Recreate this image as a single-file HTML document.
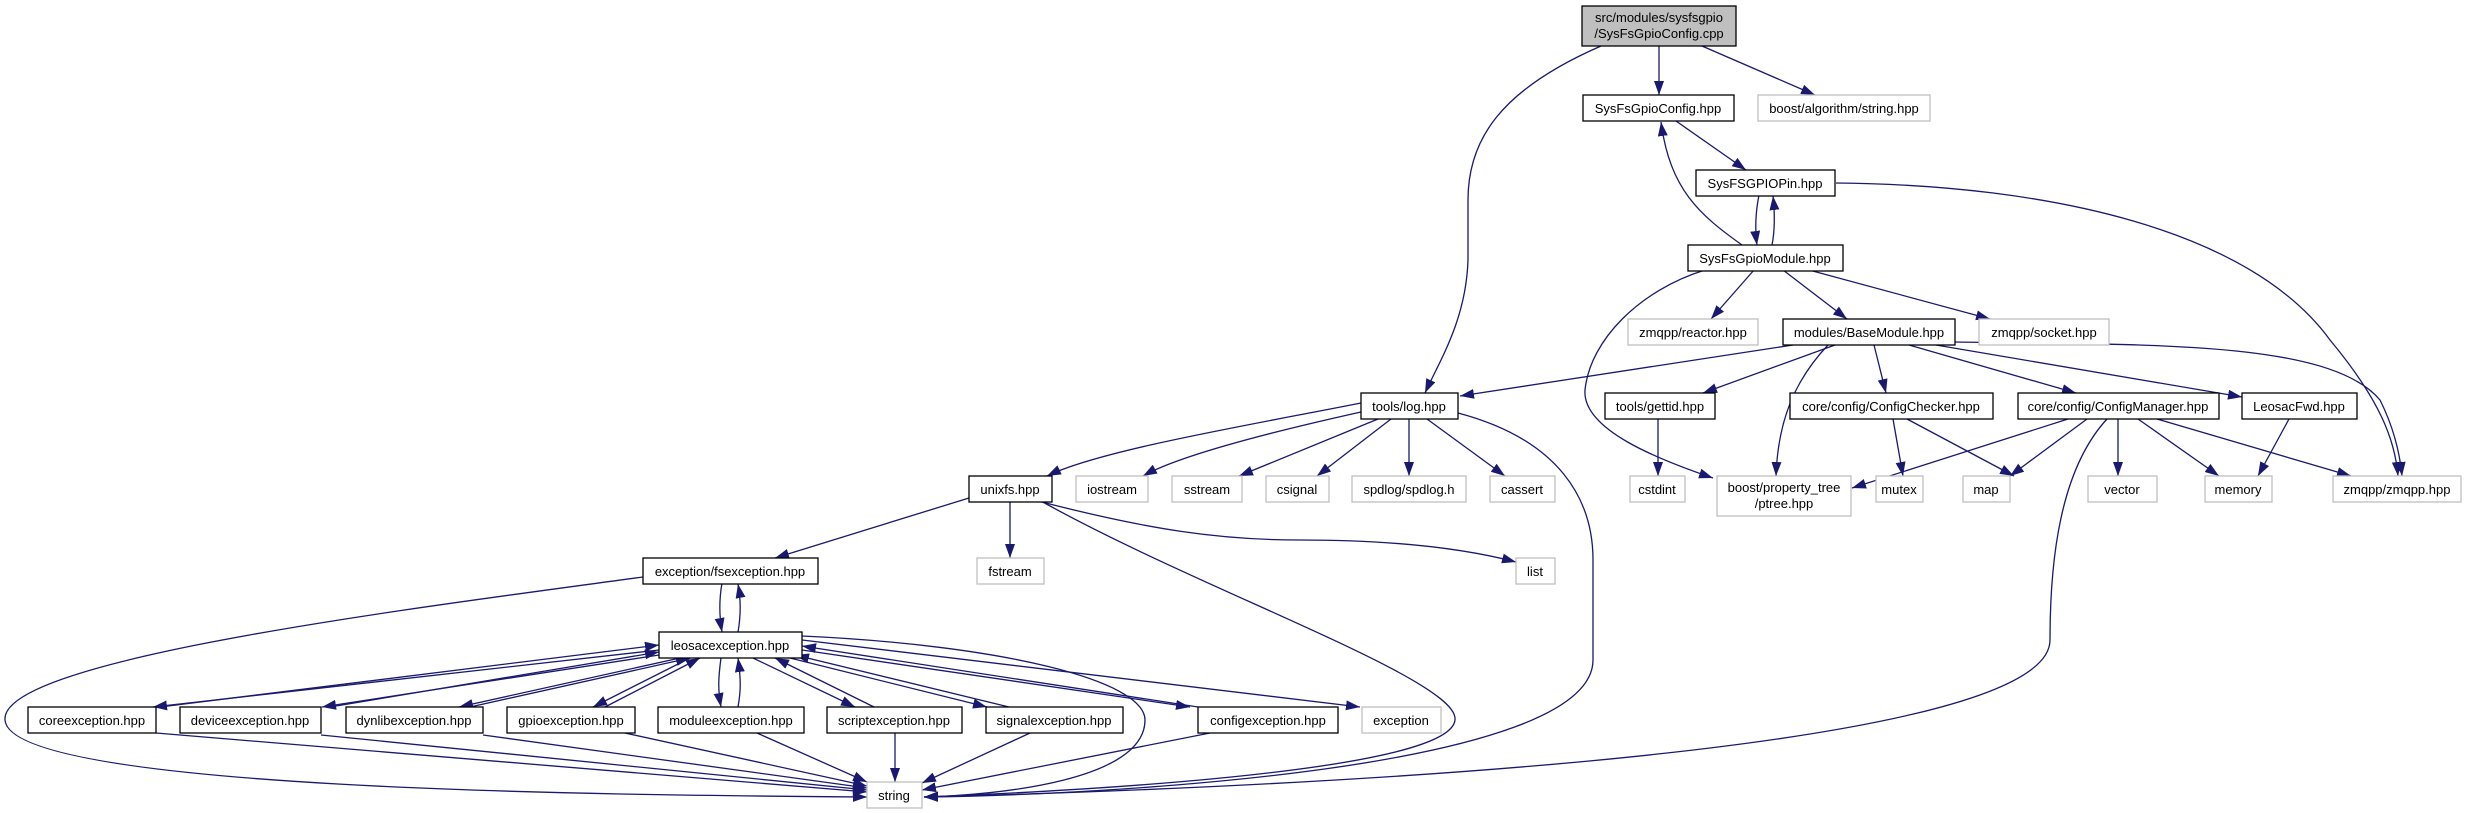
<!DOCTYPE html>
<html><head><meta charset="utf-8"><style>
html,body{margin:0;padding:0;background:#fff}
svg{display:block}
text{font-family:"Liberation Sans",Arial,sans-serif;font-size:13px;fill:#000;text-anchor:middle}
.n{fill:#fff;stroke:#000;stroke-width:1.3}
.l{fill:#fff;stroke:#bfbfbf;stroke-width:1.3}
.e{fill:none;stroke:#191970;stroke-width:1.3;marker-end:url(#a)}
</style></head><body>
<svg width="2466" height="813" viewBox="0 0 2466 813" xmlns="http://www.w3.org/2000/svg">
<defs><marker id="a" markerUnits="userSpaceOnUse" markerWidth="15" markerHeight="11" refX="14" refY="5" orient="auto"><path d="M0,0 L14,5 L0,10 z" fill="#191970"/></marker></defs>

<path class="e" d="M1601,46 C1500,90 1468,140 1468,200 L1468,260 C1466,320 1440,360 1425,393"/>
<path class="e" d="M1659,46 L1659,95"/>
<path class="e" d="M1702,46 L1815,95"/>
<path class="e" d="M1676,121 L1746,170"/>
<path class="e" d="M1742,245 C1700,215 1670,190 1661,122"/>
<path class="e" d="M1759,195 C1755,215 1755,230 1757,245"/>
<path class="e" d="M1772,245 C1775,230 1775,215 1773,196"/>
<path class="e" d="M1836,183 C2050,185 2250,230 2330,340 C2380,400 2395,440 2398,476"/>
<path class="e" d="M1705,270 C1640,290 1590,340 1585,390 C1582,430 1660,460 1713,478"/>
<path class="e" d="M1754,270 L1711,319"/>
<path class="e" d="M1783,270 L1847,319"/>
<path class="e" d="M1809,270 L1990,319"/>
<path class="e" d="M1793,345 L1460,396"/>
<path class="e" d="M1835,345 L1703,393"/>
<path class="e" d="M1828,345 C1795,380 1778,420 1776,476"/>
<path class="e" d="M1874,345 L1886,393"/>
<path class="e" d="M1909,345 L2076,393"/>
<path class="e" d="M1936,345 L2242,397"/>
<path class="e" d="M1955,342 C2150,345 2330,340 2380,400 C2395,430 2400,455 2402,476"/>
<path class="e" d="M1658,419 L1658,476"/>
<path class="e" d="M1893,419 L1903,476"/>
<path class="e" d="M1907,419 L2014,476"/>
<path class="e" d="M2068,419 L1852,488"/>
<path class="e" d="M2087,419 L2010,476"/>
<path class="e" d="M2107,419 C2060,470 2050,560 2050,640 C2050,760 1200,790 924,797"/>
<path class="e" d="M2118,419 L2118,476"/>
<path class="e" d="M2138,419 L2219,476"/>
<path class="e" d="M2157,419 L2351,476"/>
<path class="e" d="M2289,419 L2258,476"/>
<path class="e" d="M1361,403 C1250,425 1100,450 1047,476"/>
<path class="e" d="M1361,412 C1280,430 1180,455 1143,476"/>
<path class="e" d="M1378,419 L1239,476"/>
<path class="e" d="M1391,419 L1317,476"/>
<path class="e" d="M1409,419 L1409,476"/>
<path class="e" d="M1427,419 L1505,476"/>
<path class="e" d="M1458,413 C1560,440 1593,500 1593,560 L1593,660 C1593,770 1100,795 924,797"/>
<path class="e" d="M969,498 L775,558"/>
<path class="e" d="M1010,501 L1010,558"/>
<path class="e" d="M1038,501 C1150,530 1220,540 1300,540 C1400,540 1470,550 1516,562"/>
<path class="e" d="M1041,501 C1200,590 1460,680 1455,720 C1450,770 1100,790 924,797"/>
<path class="e" d="M722,583 C719,600 719,615 722,632"/>
<path class="e" d="M738,632 C741,615 741,600 738,584"/>
<path class="e" d="M643,577 C400,610 0,660 5,720 C10,790 600,795 867,797"/>
<path class="e" d="M659,650 L153,707"/>
<path class="e" d="M160,707 L659,645"/>
<path class="e" d="M659,655 L322,707"/>
<path class="e" d="M330,707 L659,652"/>
<path class="e" d="M680,658 L459,707"/>
<path class="e" d="M470,707 L690,658"/>
<path class="e" d="M690,658 L593,707"/>
<path class="e" d="M605,707 L700,658"/>
<path class="e" d="M721,658 C718,680 718,690 721,707"/>
<path class="e" d="M738,707 C741,690 741,680 738,658"/>
<path class="e" d="M753,658 L855,707"/>
<path class="e" d="M874,707 L775,658"/>
<path class="e" d="M790,658 L987,707"/>
<path class="e" d="M1009,707 L795,655"/>
<path class="e" d="M802,650 L1190,707"/>
<path class="e" d="M1198,707 L802,646"/>
<path class="e" d="M802,640 L1360,707"/>
<path class="e" d="M802,636 C1000,645 1145,680 1145,720 C1145,780 1000,795 924,797"/>
<path class="e" d="M156,733 L867,792"/>
<path class="e" d="M321,735 L867,790"/>
<path class="e" d="M483,735 L867,788"/>
<path class="e" d="M625,733 L867,786"/>
<path class="e" d="M757,733 L867,782"/>
<path class="e" d="M895,733 L895,782"/>
<path class="e" d="M1030,733 L922,783"/>
<path class="e" d="M1210,733 L922,790"/>

<rect x="1582" y="6" width="154" height="40" fill="#bfbfbf" stroke="#000" stroke-width="1.3"/>
<text x="1659" y="22">src/modules/sysfsgpio</text><text x="1659" y="38">/SysFsGpioConfig.cpp</text>

<rect class="n" x="1583" y="95" width="151" height="26"/><text x="1658" y="113">SysFsGpioConfig.hpp</text>
<rect class="l" x="1758" y="95" width="172" height="26"/><text x="1844" y="113">boost/algorithm/string.hpp</text>
<rect class="n" x="1696" y="170" width="139" height="26"/><text x="1765" y="188">SysFSGPIOPin.hpp</text>
<rect class="n" x="1688" y="245" width="155" height="26"/><text x="1765" y="263">SysFsGpioModule.hpp</text>

<rect class="l" x="1628" y="319" width="130" height="26"/><text x="1693" y="337">zmqpp/reactor.hpp</text>
<rect class="n" x="1783" y="319" width="172" height="26"/><text x="1869" y="337">modules/BaseModule.hpp</text>
<rect class="l" x="1979" y="319" width="130" height="26"/><text x="2044" y="337">zmqpp/socket.hpp</text>

<rect class="n" x="1361" y="393" width="97" height="26"/><text x="1409" y="411">tools/log.hpp</text>
<rect class="n" x="1605" y="393" width="110" height="26"/><text x="1660" y="411">tools/gettid.hpp</text>
<rect class="n" x="1790" y="393" width="203" height="26"/><text x="1891" y="411">core/config/ConfigChecker.hpp</text>
<rect class="n" x="2018" y="393" width="201" height="26"/><text x="2118" y="411">core/config/ConfigManager.hpp</text>
<rect class="n" x="2242" y="393" width="115" height="26"/><text x="2299" y="411">LeosacFwd.hpp</text>

<rect class="n" x="969" y="476" width="83" height="26"/><text x="1010" y="494">unixfs.hpp</text>
<rect class="l" x="1076" y="476" width="72" height="26"/><text x="1112" y="494">iostream</text>
<rect class="l" x="1172" y="476" width="70" height="26"/><text x="1207" y="494">sstream</text>
<rect class="l" x="1266" y="476" width="63" height="26"/><text x="1297" y="494">csignal</text>
<rect class="l" x="1352" y="476" width="114" height="26"/><text x="1409" y="494">spdlog/spdlog.h</text>
<rect class="l" x="1490" y="476" width="65" height="26"/><text x="1522" y="494">cassert</text>
<rect class="l" x="1630" y="476" width="55" height="26"/><text x="1657" y="494">cstdint</text>
<rect class="l" x="1717" y="476" width="134" height="40"/><text x="1784" y="492">boost/property_tree</text><text x="1784" y="508">/ptree.hpp</text>
<rect class="l" x="1876" y="476" width="47" height="26"/><text x="1899" y="494">mutex</text>
<rect class="l" x="1963" y="476" width="47" height="26"/><text x="1986" y="494">map</text>
<rect class="l" x="2088" y="476" width="69" height="26"/><text x="2122" y="494">vector</text>
<rect class="l" x="2205" y="476" width="67" height="26"/><text x="2238" y="494">memory</text>
<rect class="l" x="2333" y="476" width="128" height="26"/><text x="2397" y="494">zmqpp/zmqpp.hpp</text>

<rect class="n" x="643" y="558" width="175" height="26"/><text x="730" y="576">exception/fsexception.hpp</text>
<rect class="l" x="977" y="558" width="67" height="26"/><text x="1010" y="576">fstream</text>
<rect class="l" x="1516" y="558" width="39" height="26"/><text x="1535" y="576">list</text>

<rect class="n" x="659" y="632" width="143" height="26"/><text x="730" y="650">leosacexception.hpp</text>

<rect class="n" x="28" y="707" width="128" height="26"/><text x="92" y="725">coreexception.hpp</text>
<rect class="n" x="180" y="707" width="141" height="26"/><text x="250" y="725">deviceexception.hpp</text>
<rect class="n" x="346" y="707" width="137" height="26"/><text x="414" y="725">dynlibexception.hpp</text>
<rect class="n" x="507" y="707" width="128" height="26"/><text x="571" y="725">gpioexception.hpp</text>
<rect class="n" x="658" y="707" width="146" height="26"/><text x="731" y="725">moduleexception.hpp</text>
<rect class="n" x="827" y="707" width="135" height="26"/><text x="894" y="725">scriptexception.hpp</text>
<rect class="n" x="986" y="707" width="137" height="26"/><text x="1054" y="725">signalexception.hpp</text>
<rect class="n" x="1198" y="707" width="140" height="26"/><text x="1268" y="725">configexception.hpp</text>
<rect class="l" x="1362" y="707" width="79" height="26"/><text x="1401" y="725">exception</text>

<rect class="l" x="867" y="782" width="55" height="26"/><text x="894" y="800">string</text>
</svg>
</body></html>
